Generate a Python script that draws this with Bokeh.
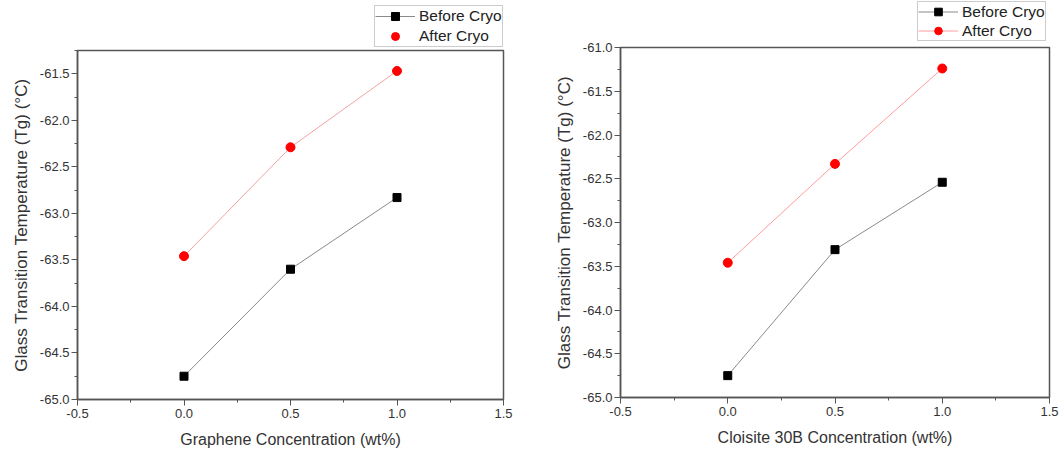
from bokeh.plotting import figure
from bokeh.layouts import row, column
from bokeh.models import Range1d, SingleIntervalTicker, PrintfTickFormatter, Legend, LegendItem
from bokeh.embed import file_html
from bokeh.resources import INLINE

conc = [0.0, 0.5, 1.0]
graphene_before = [-64.75, -63.60, -62.83]
graphene_after = [-63.46, -62.29, -61.47]
cloisite_before = [-64.75, -63.31, -62.54]
cloisite_after = [-63.46, -62.33, -61.24]

x_titles = ["Graphene Concentration (wt%)", "Cloisite 30B Concentration (wt%)"]
y_title = "Glass Transition Temperature (Tg) (°C)"
series_names = ["Before Cryo", "After Cryo"]

FONT = "Liberation Sans"
BEFORE_LINE = "#8a8a8a"


def add_series(p, before, after, after_line_color):
    l1 = p.line(conc, before, line_color=BEFORE_LINE, line_width=1)
    s1 = p.scatter(conc, before, marker="square", size=8, fill_color="black", line_color="black")
    l2 = p.line(conc, after, line_color=after_line_color, line_width=1)
    s2 = p.scatter(conc, after, marker="circle", size=9, fill_color="#ff0000", line_color="#ff0000")
    return l1, s1, l2, s2


def make_chart(before, after, xtitle, ymax, borders, frame, after_line_color):
    bl, br, bt, bb = borders
    fw, fh = frame
    p = figure(frame_width=fw, frame_height=fh, min_border_left=bl, min_border_right=br,
               min_border_top=bt, min_border_bottom=bb,
               x_range=Range1d(-0.5, 1.5), y_range=Range1d(-65.0, ymax),
               output_backend="svg", toolbar_location=None)
    p.xgrid.visible = False
    p.ygrid.visible = False
    p.outline_line_color = "#555555"
    p.outline_line_width = 1.5
    p.background_fill_color = "white"
    p.border_fill_color = "white"

    p.xaxis.ticker = SingleIntervalTicker(interval=0.5, num_minor_ticks=2)
    p.yaxis.ticker = SingleIntervalTicker(interval=0.5, num_minor_ticks=2)
    for ax in (p.xaxis, p.yaxis):
        ax.formatter = PrintfTickFormatter(format="%.1f")
        ax.axis_line_color = "#555555"
        ax.axis_line_width = 1.5
        ax.major_tick_line_color = "#555555"
        ax.minor_tick_line_color = "#555555"
        ax.major_tick_out = 6
        ax.major_tick_in = 0
        ax.minor_tick_out = 3
        ax.minor_tick_in = 0
        ax.major_label_text_font = FONT
        ax.major_label_text_font_size = "13px"
        ax.major_label_text_color = "#333333"
        ax.axis_label_text_font = FONT
        ax.axis_label_text_font_size = "16px"
        ax.axis_label_text_font_style = "normal"
        ax.axis_label_text_color = "#333333"
    p.xaxis.axis_label = xtitle
    p.yaxis.axis_label = y_title
    p.yaxis.axis_label_text_font_size = "17px"
    p.xaxis.major_label_standoff = 3
    p.xaxis.axis_label_standoff = 10
    p.yaxis.major_label_standoff = 2
    p.yaxis.axis_label_standoff = 6

    add_series(p, before, after, after_line_color)
    return p


def make_legend(width, height, loc, row_h, before, after, after_line_color, after_line_in_legend):
    # legend strip above the chart; its frame is aligned with the chart frame below
    q = figure(width=width, height=height, min_border=0,
               x_range=Range1d(-0.5, 1.5), y_range=Range1d(0, 1),
               x_axis_location=None, y_axis_location=None,
               output_backend="svg", toolbar_location=None)
    q.xgrid.visible = False
    q.ygrid.visible = False
    q.outline_line_color = None
    q.background_fill_color = "white"
    q.border_fill_color = "white"
    l1, s1, l2, s2 = add_series(q, before, after, after_line_color)  # out of this strip's y range
    items = [LegendItem(label=series_names[0], renderers=[l1, s1]),
             LegendItem(label=series_names[1], renderers=([l2, s2] if after_line_in_legend else [s2]))]
    leg = Legend(items=items, location=loc, orientation="vertical",
                 label_text_font=FONT, label_text_font_size="15.5px", label_text_color="#222222",
                 border_line_color="#999999", border_line_width=1, background_fill_color="white",
                 background_fill_alpha=1.0, padding=0, spacing=0, margin=0,
                 glyph_width=40, glyph_height=row_h, label_height=row_h, label_standoff=4)
    q.add_layout(leg, "center")
    return q


p1 = make_chart(graphene_before, graphene_after, x_titles[0], -61.25,
                (77, 37, 2, 54), (426, 349), "#f2a3a3")
g1 = make_legend(540, 48, (297, 1), 20, graphene_before, graphene_after, "#f2a3a3", False)
p2 = make_chart(cloisite_before, cloisite_after, x_titles[1], -61.0,
                (80, 14, 6, 56), (429, 350), "#ff9c9c")
g2 = make_legend(523, 41, (297, 0), 19, cloisite_before, cloisite_after, "#ff9c9c", True)

layout = row(column(g1, p1, spacing=0), column(g2, p2, spacing=0), spacing=0)
open("out.html", "w").write(file_html(layout, INLINE))
